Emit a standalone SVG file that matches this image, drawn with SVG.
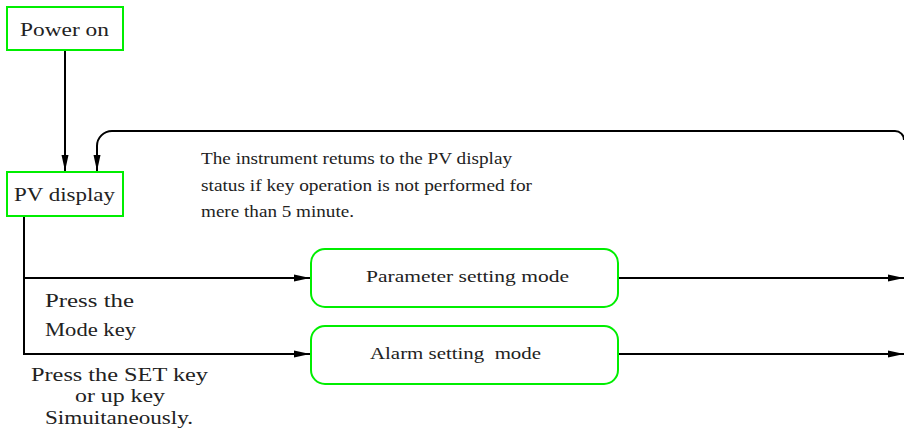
<svg xmlns="http://www.w3.org/2000/svg" width="904" height="432" viewBox="0 0 904 432">
<style>
.box{fill:#fff;stroke:#00ee00;stroke-width:2}
.t{fill:#222;font-size:19px;white-space:pre}
.n{font-size:17px}
.s{font-size:18px}
.c{fill:none;stroke:#000;stroke-width:2}
</style>
<defs>
<marker id="a" viewBox="0 0 16 8" refX="16" refY="4" markerWidth="16" markerHeight="8" markerUnits="userSpaceOnUse" orient="auto">
<path d="M0,0.5 L16,4 L0,7.5 z" fill="#000"/>
</marker>
</defs>
<g id="connectors">
<path class="c" d="M65,50 L65,171" marker-end="url(#a)"/>
<path class="c" d="M904,140 A9,9 0 0 0 895,131 L112,131 A15,15 0 0 0 97,146 L97,171" marker-end="url(#a)"/>
<path class="c" d="M24,216 L24,354 L310,354" marker-end="url(#a)"/>
<path class="c" d="M24,278 L310,278" marker-end="url(#a)"/>
<path class="c" d="M618,278 L904,278" marker-end="url(#a)"/>
<path class="c" d="M618,354 L904,354" marker-end="url(#a)"/>
</g>
<g font-family="'Liberation Serif','DejaVu Serif',serif">
<g id="power-on">
<rect class="box" x="7" y="7" width="116" height="43"/>
<text class="t" x="20" y="36" textLength="89" lengthAdjust="spacingAndGlyphs">Power on</text>
</g>
<g id="pv-display">
<rect class="box" x="7" y="172" width="116" height="44"/>
<text class="t" x="14" y="201" textLength="101" lengthAdjust="spacingAndGlyphs">PV display</text>
</g>
<g id="note">
<text class="t n" x="201" y="164" textLength="311" lengthAdjust="spacingAndGlyphs">The instrument retums to the PV display</text>
<text class="t n" x="201" y="191" textLength="331" lengthAdjust="spacingAndGlyphs">status if key operation is not performed for</text>
<text class="t n" x="201" y="217" textLength="153" lengthAdjust="spacingAndGlyphs">mere than 5 minute.</text>
</g>
<g id="parameter-setting-mode">
<rect class="box" x="311" y="249" width="307" height="58" rx="14"/>
<text class="t n" x="366" y="282" textLength="203" lengthAdjust="spacingAndGlyphs">Parameter setting mode</text>
</g>
<g id="alarm-setting-mode">
<rect class="box" x="311" y="326" width="307" height="58" rx="14"/>
<text class="t n" x="370" y="359" textLength="171" lengthAdjust="spacingAndGlyphs">Alarm setting  mode</text>
</g>
<g id="labels">
<text class="t" x="45" y="307" textLength="89" lengthAdjust="spacingAndGlyphs">Press the</text>
<text class="t" x="45" y="336" textLength="91" lengthAdjust="spacingAndGlyphs">Mode key</text>
<text class="t s" x="31" y="381" textLength="177" lengthAdjust="spacingAndGlyphs">Press the SET key</text>
<text class="t s" x="75" y="402" textLength="90" lengthAdjust="spacingAndGlyphs">or up key</text>
<text class="t s" x="45" y="424" textLength="148" lengthAdjust="spacingAndGlyphs">Simuitaneously.</text>
</g>
</g>
</svg>
